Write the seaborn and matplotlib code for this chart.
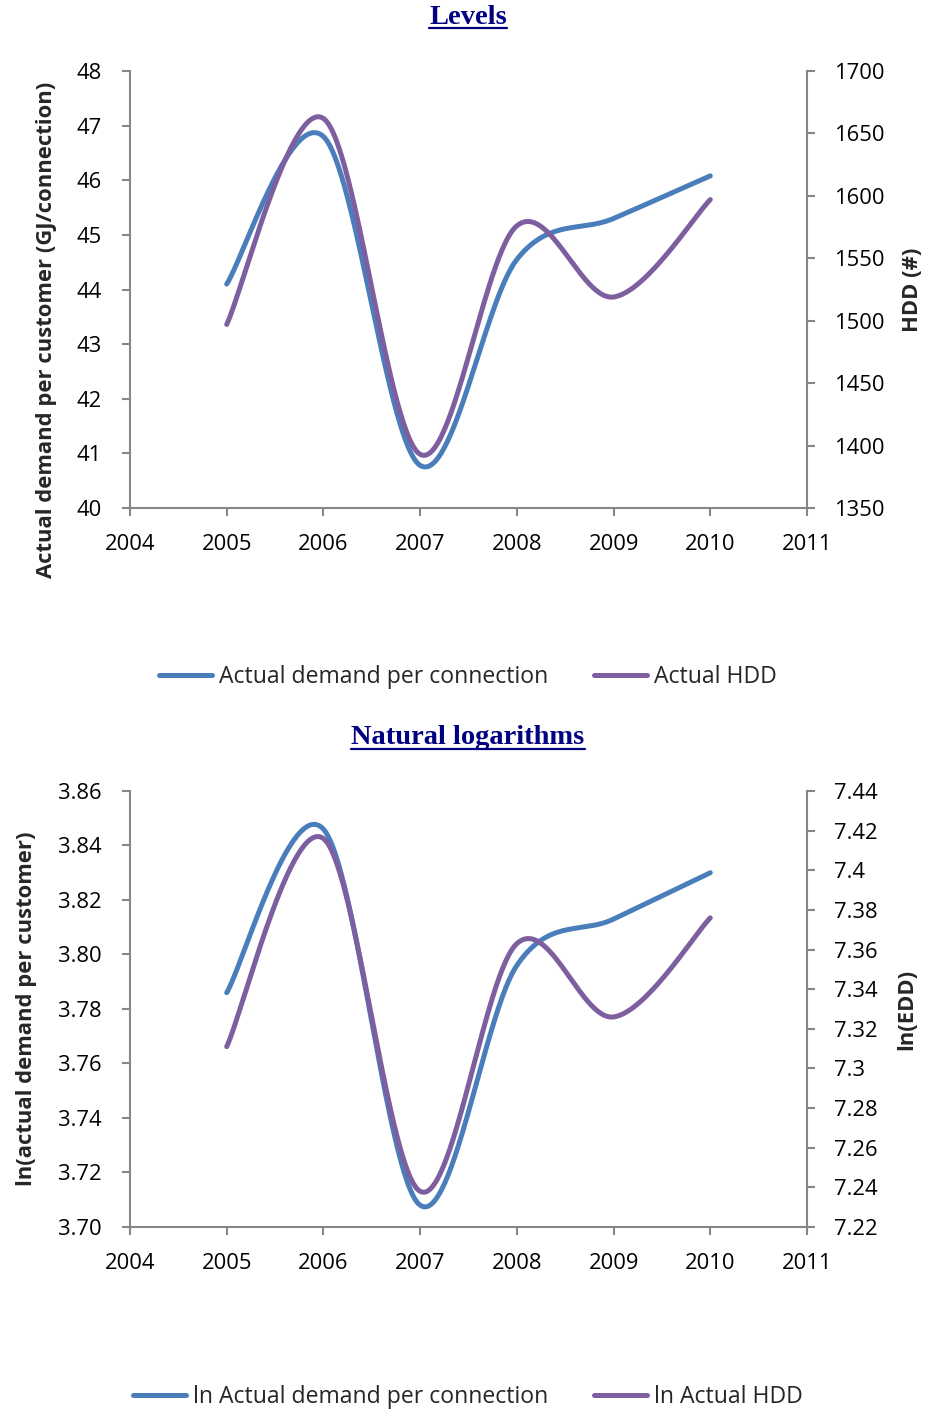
import numpy as np
import pandas as pd
import matplotlib
matplotlib.use("Agg")
import matplotlib.pyplot as plt
from matplotlib.ticker import FuncFormatter, MultipleLocator
from matplotlib.lines import Line2D
import seaborn as sns

# ---------------- data ----------------
years = [2005, 2006, 2007, 2008, 2009, 2010]
demand = [44.1, 46.8, 40.78, 44.55, 45.3, 46.08]          # GJ/connection
hdd = [1497, 1662, 1393, 1576, 1519, 1597]                 # HDD
ln_demand = [3.786, 3.846, 3.708, 3.796, 3.813, 3.830]
ln_hdd = [7.311, 7.416, 7.238, 7.363, 7.326, 7.376]

titles = ["Levels", "Natural logarithms"]
left_labels = ["Actual demand per customer (GJ/connection)", "ln(actual demand per customer)"]
right_labels = ["HDD (#)", "ln(EDD)"]
legend_top = ["Actual demand per connection", "Actual HDD"]
legend_bottom = ["ln Actual demand per connection", "ln Actual HDD"]

BLUE = "#4A7EBB"
PURPLE = "#7D5FA0"
GRAY = "#868686"

sns.set_style("white")
plt.rcParams["font.family"] = ["Open Sans", "DejaVu Sans"]

TICK_FS = 15.8
LABEL_FS = 15.8
LEGEND_FS = 16.6


def excel_smooth(x, y, n=60):
    pts = np.column_stack([x, y]).astype(float)
    out = []
    for i in range(len(pts) - 1):
        p0 = pts[i - 1] if i > 0 else pts[i]
        p1 = pts[i]
        p2 = pts[i + 1]
        p3 = pts[i + 2] if i + 2 < len(pts) else pts[i + 1]
        c1 = p1 + (p2 - p0) / 6.0
        c2 = p2 - (p3 - p1) / 6.0
        t = np.linspace(0, 1, n)[:, None]
        seg = (1 - t) ** 3 * p1 + 3 * (1 - t) ** 2 * t * c1 + 3 * (1 - t) * t ** 2 * c2 + t ** 3 * p2
        out.append(seg if i == 0 else seg[1:])
    s = np.vstack(out)
    return s[:, 0], s[:, 1]


W, H = 938, 1410
fig = plt.figure(figsize=(W / 100, H / 100), dpi=100)


def make_panel(top_px, bot_px, left_vals, right_vals, lylim, lstep, rylim, rstep,
               lfmt, rfmt, llabel, rlabel, lcoord, rcoord, legend_labels, legend_y):
    ax = fig.add_axes([130 / W, 1 - bot_px / H, 677 / W, (bot_px - top_px) / H])
    ax2 = ax.twinx()
    xs, ys = excel_smooth(years, left_vals)
    sns.lineplot(x=xs, y=ys, ax=ax, sort=False, color=BLUE, lw=3.6,
                 solid_capstyle="round", estimator=None)
    xs2, ys2 = excel_smooth(years, right_vals)
    sns.lineplot(x=xs2, y=ys2, ax=ax2, sort=False, color=PURPLE, lw=3.6,
                 solid_capstyle="round", estimator=None)
    ax.set_xlim(2004, 2011)
    ax.set_ylim(*lylim)
    ax2.set_ylim(*rylim)
    ax.xaxis.set_major_locator(MultipleLocator(1))
    ax.yaxis.set_major_locator(MultipleLocator(lstep))
    ax2.yaxis.set_major_locator(MultipleLocator(rstep))
    ax.yaxis.set_major_formatter(FuncFormatter(lfmt))
    ax2.yaxis.set_major_formatter(FuncFormatter(rfmt))
    ax.xaxis.set_major_formatter(FuncFormatter(lambda v, p: f"{int(round(v))}"))
    for sp in ["top", "right"]:
        ax.spines[sp].set_visible(False)
    for sp in ["top", "left", "bottom"]:
        ax2.spines[sp].set_visible(False)
    for a in (ax, ax2):
        for sp in a.spines.values():
            sp.set_color(GRAY)
            sp.set_linewidth(1.5)
    ax.tick_params(axis="y", direction="out", length=5.5, width=1.5, color=GRAY,
                   pad=15, labelsize=TICK_FS, left=True, labelcolor="black")
    ax.tick_params(axis="x", direction="out", length=5.5, width=1.5, color=GRAY,
                   pad=13, labelsize=TICK_FS, bottom=True, labelcolor="black")
    ax2.tick_params(axis="y", direction="out", length=5.5, width=1.5, color=GRAY,
                    pad=14, labelsize=TICK_FS, right=True, labelcolor="black")
    ax.set_xlabel("")
    ax.set_ylabel(llabel, fontsize=LABEL_FS, fontweight="bold")
    ax2.set_ylabel(rlabel, fontsize=LABEL_FS, fontweight="bold")
    ax.yaxis.set_label_coords(*lcoord)
    ax2.yaxis.set_label_coords(*rcoord)
    ax.grid(False)
    ax2.grid(False)
    handles = [Line2D([], [], color=BLUE, lw=3.6, solid_capstyle="round"),
               Line2D([], [], color=PURPLE, lw=3.6, solid_capstyle="round")]
    fig.legend(handles, legend_labels, loc="center", ncol=2,
               bbox_to_anchor=(468 / W, 1 - legend_y / H), frameon=False,
               fontsize=LEGEND_FS, handlelength=2.3, handletextpad=0.3, columnspacing=2.0)
    return ax, ax2


make_panel(71, 508, demand, hdd, (40, 48), 1, (1350, 1700), 50,
           lambda v, p: f"{v:.0f}", lambda v, p: f"{v:.0f}",
           left_labels[0], right_labels[0],
           (-0.108, (508 - 330) / 437), (1.1410, 0.5), legend_top, 677)

make_panel(791, 1227, ln_demand, ln_hdd, (3.70, 3.86), 0.02, (7.22, 7.44), 0.02,
           lambda v, p: f"{v:.2f}",
           lambda v, p: f"{v:.2f}".rstrip("0").rstrip("."),
           left_labels[1], right_labels[1],
           (-0.138, 0.5), (1.132, 0.5), legend_bottom, 1397)

# titles with underline
title_texts = []
for t, y in zip(titles, [17, 738]):
    tx = fig.text(468 / W, 1 - y / H, t, ha="center", va="center",
                  fontsize=20.5, fontweight="bold", color="#000080",
                  family="Liberation Serif")
    title_texts.append(tx)

fig.canvas.draw()
renderer = fig.canvas.get_renderer()
for tx in title_texts:
    bb = tx.get_window_extent(renderer)
    yline = (bb.y0 + 1.5) / H
    fig.add_artist(Line2D([bb.x0 / W, bb.x1 / W], [yline, yline],
                          color="#000080", lw=1.6, transform=fig.transFigure))

fig.savefig("out.png", dpi=100)
